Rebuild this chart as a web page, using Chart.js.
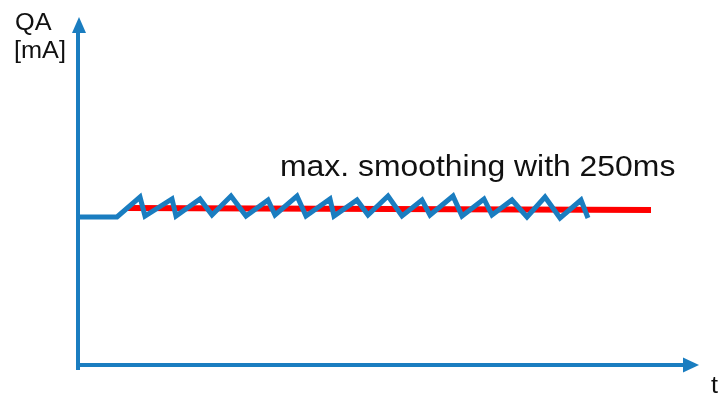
<!DOCTYPE html>
<html>
<head>
<meta charset="utf-8">
<script src="https://cdn.jsdelivr.net/npm/chart.js@4/dist/chart.umd.min.js"></script>
<style>
  html, body { margin: 0; padding: 0; background: #fff; }
</style>
</head>
<body>
<canvas id="qaChart" width="723" height="402"></canvas>
<script>
// raw current (zigzag)
const rawT  = [0, 3.9, 6.2, 6.7, 9.4, 9.8, 12.2, 13.4, 15.3, 16.8, 19.0, 19.7, 21.9, 22.8, 25.2, 25.6,
               27.9, 29.0, 31.0, 32.4, 34.4, 35.2, 37.5, 38.4, 40.6, 41.4, 43.4, 44.9, 46.7, 48.2, 50.3, 51.0];
const rawQA = [14.8, 14.8, 16.8, 14.9, 16.6, 14.9, 16.6, 15.0, 16.9, 14.9, 16.5, 15.0, 16.9, 14.9, 16.6, 14.9,
               16.5, 15.0, 16.9, 14.9, 16.5, 15.0, 16.9, 14.9, 16.6, 15.0, 16.5, 14.8, 16.8, 14.7, 16.5, 14.7];

// smoothed current
const smoothT  = [5.0, 57.3];
const smoothQA = [15.7, 15.5];

const labelText = 'max. smoothing with 250ms';
const blue = '#1a7dc0';
const red = '#ff0000';

function toPoints(xs, ys) {
    return xs.map((x, i) => ({ x: x, y: ys[i] }));
}

// axes with arrows and the text labels
const axesPlugin = {
    id: 'arrowAxes',
    beforeDatasetsDraw(chart) {
        const ctx = chart.ctx;
        const area = chart.chartArea;
        const x0 = chart.scales.x.getPixelForValue(0);
        const y0 = chart.scales.y.getPixelForValue(0);
        ctx.save();
        ctx.strokeStyle = blue;
        ctx.fillStyle = blue;
        ctx.lineWidth = 4;
        // y axis
        ctx.beginPath();
        ctx.moveTo(x0, y0 + 5);
        ctx.lineTo(x0, area.top + 14);
        ctx.stroke();
        ctx.beginPath();
        ctx.moveTo(x0 + 1, area.top);
        ctx.lineTo(x0 + 8, area.top + 16);
        ctx.lineTo(x0 - 6, area.top + 16);
        ctx.closePath();
        ctx.fill();
        // x axis
        ctx.beginPath();
        ctx.moveTo(x0 - 2, y0);
        ctx.lineTo(area.right - 14, y0);
        ctx.stroke();
        ctx.beginPath();
        ctx.moveTo(area.right, y0);
        ctx.lineTo(area.right - 16, y0 - 7.5);
        ctx.lineTo(area.right - 16, y0 + 7.5);
        ctx.closePath();
        ctx.fill();
        ctx.restore();
    },
    afterDraw(chart) {
        const ctx = chart.ctx;
        ctx.save();
        ctx.fillStyle = '#111';
        ctx.textBaseline = 'alphabetic';
        ctx.textAlign = 'left';
        function stretched(text, x, y, size) {
            ctx.save();
            ctx.translate(x, y);
            ctx.scale(1.1, 1);
            ctx.font = size + 'px "Liberation Sans", Arial, sans-serif';
            ctx.fillText(text, 0, 0);
            ctx.restore();
        }
        stretched('QA', 15, 30, 23);
        stretched('[mA]', 14, 58, 23);
        stretched('t', 711, 393, 23);
        stretched(labelText, 280, 176, 29);
        ctx.restore();
    }
};

new Chart(document.getElementById('qaChart').getContext('2d'), {
    type: 'line',
    data: {
        datasets: [
            {
                label: 'raw',
                data: toPoints(rawT, rawQA),
                borderColor: blue,
                borderWidth: 5,
                pointRadius: 0,
                tension: 0,
                fill: false
            },
            {
                label: 'smoothed',
                data: toPoints(smoothT, smoothQA),
                borderColor: red,
                borderWidth: 6,
                pointRadius: 0,
                tension: 0,
                fill: false
            }
        ]
    },
    options: {
        responsive: false,
        animation: false,
        layout: { padding: { left: 78, right: 24, top: 17, bottom: 37 } },
        plugins: {
            legend: { display: false },
            tooltip: { enabled: false }
        },
        scales: {
            x: { type: 'linear', min: 0, max: 62.1, display: false },
            y: { type: 'linear', min: 0, max: 34.8, display: false }
        }
    },
    plugins: [axesPlugin]
});
</script>
</body>
</html>
